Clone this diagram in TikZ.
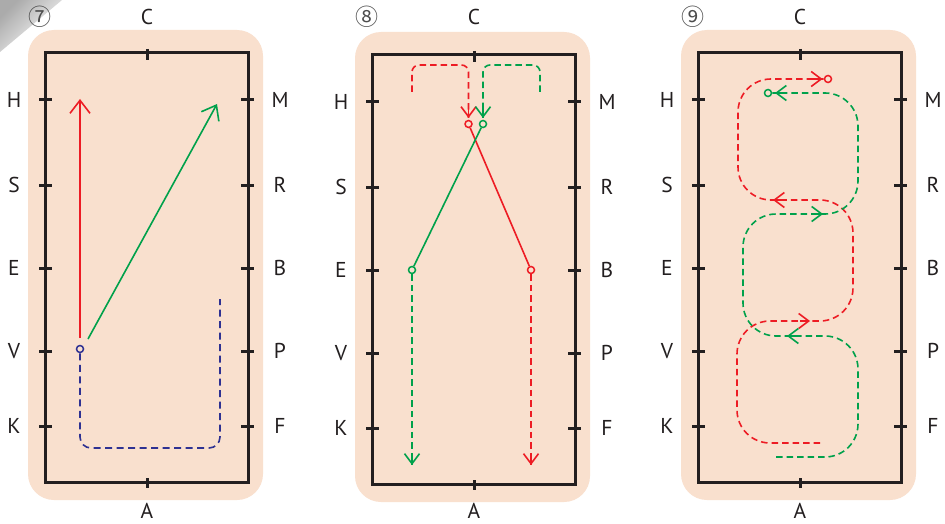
\documentclass[tikz,border=0pt]{standalone}
\usepackage{fontspec}
\setmainfont{PT Sans}
\newfontfamily\circfont{Noto Sans CJK SC}
\usetikzlibrary{arrows.meta}
\definecolor{peach}{RGB}{249,224,206}
\definecolor{framecol}{RGB}{35,31,32}
\definecolor{rd}{RGB}{237,28,36}
\definecolor{gn}{RGB}{0,161,75}
\definecolor{bl}{RGB}{46,49,146}
\tikzset{
  frame/.style={draw=framecol, line width=3pt},
  lbl/.style={font=\fontsize{21.5}{25}\selectfont, text=framecol, inner sep=0pt},
  num/.style={font=\circfont\fontsize{23}{26}\selectfont, text=black!70, inner sep=0pt},
  track/.style={line width=1.6pt},
  dsh/.style={track, dash pattern=on 6.5pt off 4pt},
  bigtip/.style={-{Straight Barb[length=13pt,width=20pt]}},
  tip/.style={-{Straight Barb[length=10pt,width=15pt]}},
  dot/.style={circle, draw, line width=1.5pt, minimum size=7pt, inner sep=0pt, fill=peach},
}
% #1 prefix, #2 number, #3 vertical correction of the labels
\newcommand{\drawarena}[3]{%
  \fill[peach, rounded corners=26pt] (-17,-23) rectangle (218,447);
  \draw[frame] (0,0) rectangle (203,429);
  \foreach \yy/\ll/\rr in {47/H/M,132/S/R,215/E/B,298/V/P,373/K/F}{
    \draw[frame] (-6,\yy) -- (7,\yy);
    \draw[frame] (196,\yy) -- (209,\yy);
    \node[lbl] (#1\ll) at (-31,\yy) {\ll};
    \node[lbl] (#1\rr) at (235,\yy) {\rr};
  }
  \draw[frame] (102,-4) -- (102,7);
  \draw[frame] (102,425) -- (102,435);
  \node[lbl] (#1C) at (102,-36+#3) {C};
  \node[lbl] (#1A) at (102,458+#3) {A};
  \node[num] (#1num) at (-5,-36+#3) {#2};
}
\begin{document}
\begin{tikzpicture}[x=1pt,y=-1pt]
\useasboundingbox (0,0) rectangle (945,524);
\fill[white] (0,0) rectangle (945,524);
% page-curl shadow in the corner
\begin{scope}
  \clip (0,0) -- (62,0) -- (0,52) -- cycle;
  \shade[top color=black!33, middle color=white, bottom color=white, shading angle=45] (0,0) rectangle (62,52);
\end{scope}

% ---------- panel 7 ----------
\begin{scope}[shift={(45,53)}]
  \drawarena{a}{⑦}{0}
  \coordinate (a1) at (35,285);
  \coordinate (a2) at (35,46);
  \coordinate (a3) at (43,286);
  \coordinate (a4) at (172,51);
  \draw[track, rd, bigtip] (a1) -- (a2);
  \draw[track, gn, bigtip] (a3) -- (a4);
  \node[dot, draw=bl] (aV) at (35,296) {};
  \coordinate (a5) at (175,246);
  \draw[dsh, bl, rounded corners=11pt, dash pattern=on 7pt off 4.5pt] (aV.south) -- (35,395) -- (175,395) -- (a5);
\end{scope}

% ---------- panel 8 ----------
\begin{scope}[shift={(372,55)}]
  \drawarena{b}{⑧}{-2}
  \node[dot, draw=rd] (bR1) at (96.5,69) {};
  \node[dot, draw=gn] (bG1) at (111,69) {};
  \node[dot, draw=rd] (bR2) at (159,215) {};
  \node[dot, draw=gn] (bG2) at (40,215) {};
  \coordinate (bRs) at (40,37);
  \coordinate (bGs) at (168,37);
  \coordinate (bRt) at (96.5,63);
  \coordinate (bGt) at (111,63);
  \coordinate (bRe) at (159,410);
  \coordinate (bGe) at (40,410);
  \draw[dsh, rd, rounded corners=7pt] (bRs) -- (40,10) -- (96.5,10) -- (bRt);
  \draw[dsh, gn, rounded corners=7pt] (bGs) -- (168,10) -- (111,10) -- (bGt);
  \draw[track, rd, tip] (96.5,53) -- (bRt);
  \draw[track, gn, tip] (111,53) -- (bGt);
  \draw[track, rd] (bR1) -- (bR2);
  \draw[track, gn] (bG1) -- (bG2);
  \draw[dsh, rd] (bR2) -- (bRe);
  \draw[dsh, gn] (bG2) -- (bGe);
  \draw[track, rd, tip] (159,400) -- (bRe);
  \draw[track, gn, tip] (40,400) -- (bGe);
\end{scope}

% ---------- panel 9 ----------
\begin{scope}[shift={(698,53)}]
  \drawarena{c}{⑨}{0}
  \node[dot, draw=rd] (cR) at (130,26) {};
  \node[dot, draw=gn] (cG) at (70,40) {};
  \coordinate (cRs) at (122,390);
  \coordinate (cGs) at (78,404);
  \draw[dsh, rd, rounded corners=33pt] (cRs) -- (39,390) -- (39,268) -- (155,268) -- (155,147) -- (40,147) -- (40,26) -- (cR.west);
  \draw[dsh, gn, rounded corners=33pt] (cGs) -- (160,404) -- (160,283) -- (45,283) -- (45,161) -- (160,161) -- (160,40) -- (cG.east);
  % arrowheads
  \draw[track, rd, tip] (114,26) -- (124.5,26);
  \draw[track, rd, tip] (102,268) -- (112,268);
  \draw[track, rd, tip] (85,147) -- (75,147);
  \draw[track, gn, tip] (87,40) -- (77,40);
  \draw[track, gn, tip] (115,161) -- (125,161);
  \draw[track, gn, tip] (99,283) -- (89,283);
\end{scope}
\end{tikzpicture}
\end{document}
